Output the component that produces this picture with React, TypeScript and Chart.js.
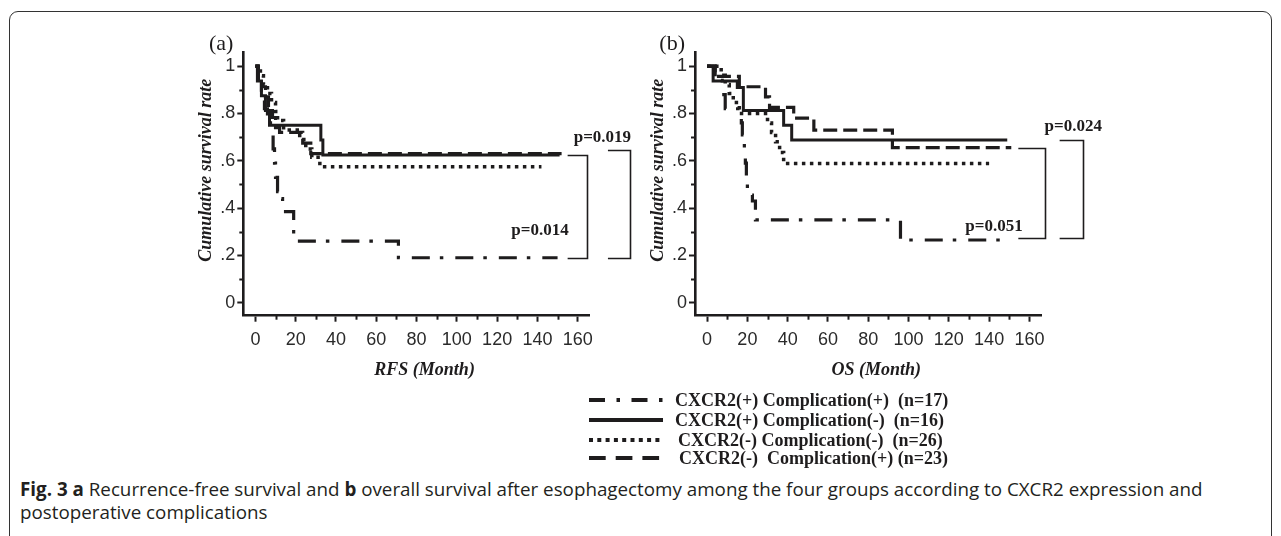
import React, { useEffect, useRef } from "react";
import { Chart, registerables } from "chart.js";

Chart.register(...registerables);

// ---------------- DATA ----------------
const GROUP_LABELS = [
  "CXCR2(+) Complication(+)  (n=17)",
  "CXCR2(+) Complication(-)  (n=16)",
  "CXCR2(-) Complication(-)  (n=26)",
  "CXCR2(-)  Complication(+) (n=23)",
];

// RFS (panel a) – Kaplan-Meier step points: months / survival
const rfsPosPosMonths = [0, 1.5, 3, 4.5, 6, 7.5, 8.8, 9.5, 10, 11, 12.5, 13.5, 19, 71, 150];
const rfsPosPosSurv = [1, 0.94, 0.88, 0.82, 0.76, 0.71, 0.65, 0.59, 0.53, 0.47, 0.44, 0.385, 0.26, 0.19, 0.19];
const rfsPosNegMonths = [0, 1, 3, 5, 7, 32.5, 33.5, 151];
const rfsPosNegSurv = [1, 0.9375, 0.875, 0.8125, 0.75, 0.6875, 0.625, 0.625];
const rfsNegNegMonths = [0, 2.5, 4, 6, 8, 10, 11, 14, 22, 25, 28, 32, 142];
const rfsNegNegSurv = [1, 0.96, 0.923, 0.885, 0.846, 0.808, 0.77, 0.73, 0.69, 0.65, 0.615, 0.575, 0.575];
const rfsNegPosMonths = [0, 1.5, 3, 5, 6.5, 8.5, 10, 12, 23.5, 27.5, 152];
const rfsNegPosSurv = [1, 0.957, 0.913, 0.87, 0.826, 0.783, 0.74, 0.72, 0.675, 0.63, 0.63];

// OS (panel b)
const osPosPosMonths = [0, 4, 7.5, 9, 17, 17.5, 18.5, 19, 19.5, 20, 22.5, 24, 96, 147];
const osPosPosSurv = [1, 0.94, 0.88, 0.82, 0.76, 0.71, 0.65, 0.59, 0.53, 0.455, 0.43, 0.35, 0.265, 0.265];
const osPosNegMonths = [0, 3, 15, 18, 38, 42, 149];
const osPosNegSurv = [1, 0.9375, 0.91, 0.8125, 0.75, 0.6875, 0.6875];
const osNegNegMonths = [0, 7, 9, 11, 13, 16, 30, 32, 34, 36, 38, 140];
const osNegNegSurv = [1, 0.962, 0.923, 0.885, 0.846, 0.8, 0.76, 0.72, 0.68, 0.635, 0.589, 0.589];
const osNegPosMonths = [0, 4, 16, 29, 31, 43, 53, 92, 151];
const osNegPosSurv = [1, 0.957, 0.913, 0.87, 0.826, 0.78, 0.73, 0.656, 0.656];

const X_TICKS = [0, 10, 20, 30, 40, 50, 60, 70, 80, 90, 100, 110, 120, 130, 140, 150, 160];
const Y_TICKS = [0, 0.1, 0.2, 0.3, 0.4, 0.5, 0.6, 0.7, 0.8, 0.9, 1];

const RFS_P_VALUES = ["p=0.014", "p=0.019"];
const OS_P_VALUES = ["p=0.051", "p=0.024"];

// ---------------- STYLE ----------------
const INK = "#1e1c1d";
const DASHES = [[18, 10, 3.5, 12], [], [3.5, 4.5], [14, 6]];
const WIDTHS = [3.2, 3, 3.5, 3.2];
const SERIF = "'Liberation Serif', 'Times New Roman', serif";
const SANS = "'Liberation Sans', Arial, sans-serif";

const isMajorY = (v: number) => Math.round(v * 10) % 2 === 0;
const isMajorX = (v: number) => Math.round(v) % 20 === 0;

const annotPlugin = {
  id: "kmAnnot",
  afterDraw(chart: any, _args: any, o: any) {
    const { ctx, chartArea: ca } = chart;
    const x = chart.scales.x;
    const y = chart.scales.y;
    ctx.save();
    // minor ticks
    ctx.strokeStyle = INK;
    ctx.lineWidth = 2;
    Y_TICKS.filter((v) => !isMajorY(v)).forEach((v) => {
      const py = Math.round(y.getPixelForValue(v)) + 0.5;
      ctx.beginPath();
      ctx.moveTo(ca.left - 4, py);
      ctx.lineTo(ca.left, py);
      ctx.stroke();
    });
    X_TICKS.filter((v) => !isMajorX(v)).forEach((v) => {
      const px = Math.round(x.getPixelForValue(v)) + 0.5;
      ctx.beginPath();
      ctx.moveTo(px, ca.bottom);
      ctx.lineTo(px, ca.bottom + 4);
      ctx.stroke();
    });
    ctx.fillStyle = INK;
    // y title
    ctx.save();
    ctx.font = `italic bold 18px ${SERIF}`;
    ctx.translate(ca.left - 37, y.getPixelForValue(0.56));
    ctx.rotate(-Math.PI / 2);
    ctx.textAlign = "center";
    ctx.textBaseline = "middle";
    ctx.fillText("Cumulative survival rate", 0, 0);
    ctx.restore();
    // x title
    ctx.font = `italic bold 18px ${SERIF}`;
    ctx.textAlign = "center";
    ctx.textBaseline = "middle";
    ctx.fillText(o.xTitle, x.getPixelForValue(o.xTitleAt), ca.bottom + 55);
    // panel tag
    ctx.font = `22px ${SERIF}`;
    ctx.textAlign = "right";
    ctx.fillText(o.tag, ca.left - 10, ca.top - 8);
    // brackets
    ctx.lineWidth = 1.6;
    o.brackets.forEach((b: any) => {
      const x0 = x.getPixelForValue(b.x0);
      const x1 = Math.round(x.getPixelForValue(b.x1)) + 0.5;
      const yt = Math.round(y.getPixelForValue(b.yTop)) + 0.5;
      const yb = Math.round(y.getPixelForValue(b.yBot)) + 0.5;
      ctx.beginPath();
      ctx.moveTo(x0, yt);
      ctx.lineTo(x1, yt);
      ctx.lineTo(x1, yb);
      ctx.lineTo(x0, yb);
      ctx.stroke();
    });
    ctx.font = `bold 17px ${SERIF}`;
    o.labels.forEach((l: any) => {
      ctx.textAlign = l.align;
      ctx.fillText(l.text, x.getPixelForValue(l.x), y.getPixelForValue(l.y));
    });
    ctx.restore();
  },
};

function buildConfig(months: number[][], surv: number[][], annot: any, padRight: number) {
  return {
    type: "line",
    data: {
      datasets: months.map((m, i) => ({
        data: m.map((t, j) => ({ x: t, y: surv[i][j] })),
        stepped: true,
        borderColor: INK,
        borderWidth: WIDTHS[i],
        borderDash: DASHES[i],
        borderCapStyle: "butt",
        borderJoinStyle: "miter",
        pointRadius: 0,
        fill: false,
      })),
    },
    options: {
      animation: false,
      responsive: false,
      maintainAspectRatio: false,
      devicePixelRatio: 1,
      layout: { padding: { top: 52, right: padRight, left: 0, bottom: 0 } },
      plugins: { legend: { display: false }, tooltip: { enabled: false }, kmAnnot: annot },
      scales: {
        x: {
          type: "linear",
          min: -6,
          max: 166,
          afterBuildTicks: (s: any) => {
            s.ticks = X_TICKS.map((v) => ({ value: v }));
          },
          afterFit: (s: any) => {
            s.height = 84.3;
          },
          ticks: {
            autoSkip: false,
            maxRotation: 0,
            padding: 8,
            color: "#2a2a2a",
            font: { family: SANS, size: 18 },
            callback: (v: number) => (isMajorX(v) ? String(v) : ""),
          },
          grid: {
            drawOnChartArea: false,
            tickLength: 6,
            tickWidth: 2,
            tickColor: (c: any) => (c.tick && isMajorX(c.tick.value) ? INK : "rgba(0,0,0,0)"),
          },
          border: { color: INK, width: 2.6 },
        },
        y: {
          type: "linear",
          min: -0.055,
          max: 1.06,
          afterBuildTicks: (s: any) => {
            s.ticks = Y_TICKS.map((v) => ({ value: v }));
          },
          afterFit: (s: any) => {
            s.width = annot.yAxisWidth;
          },
          ticks: {
            autoSkip: false,
            padding: 2,
            color: "#2a2a2a",
            font: { family: SANS, size: 18 },
            callback: (v: number) => {
              if (!isMajorY(v)) return "";
              const k = Math.round(v * 10);
              if (k === 0) return "0";
              if (k === 10) return "1";
              return "." + k;
            },
          },
          grid: {
            drawOnChartArea: false,
            tickLength: 6,
            tickWidth: 2,
            tickColor: (c: any) => (c.tick && isMajorY(c.tick.value) ? INK : "rgba(0,0,0,0)"),
          },
          border: { color: INK, width: 2.6 },
        },
      },
    },
    plugins: [annotPlugin],
  };
}

const RFS_ANNOT = {
  tag: "(a)",
  xTitle: "RFS (Month)",
  xTitleAt: 84,
  yAxisWidth: 93.3,
  brackets: [
    { x0: 155, x1: 164.8, yTop: 0.625, yBot: 0.19 },
    { x0: 175, x1: 186, yTop: 0.645, yBot: 0.19 },
  ],
  labels: [
    { text: RFS_P_VALUES[0], x: 155.5, y: 0.305, align: "right" },
    { text: RFS_P_VALUES[1], x: 158, y: 0.7, align: "left" },
  ],
};

const OS_ANNOT = {
  tag: "(b)",
  xTitle: "OS (Month)",
  xTitleAt: 84,
  yAxisWidth: 95,
  brackets: [
    { x0: 154.5, x1: 167.5, yTop: 0.656, yBot: 0.272 },
    { x0: 175, x1: 186.5, yTop: 0.688, yBot: 0.272 },
  ],
  labels: [
    { text: OS_P_VALUES[0], x: 156.7, y: 0.32, align: "right" },
    { text: OS_P_VALUES[1], x: 167.5, y: 0.745, align: "left" },
  ],
};

function KMPanel(props: { months: number[][]; surv: number[][]; annot: any; left: number; width: number; padRight: number }) {
  const ref = useRef<HTMLCanvasElement | null>(null);
  useEffect(() => {
    if (!ref.current) return;
    const chart = new Chart(ref.current, buildConfig(props.months, props.surv, props.annot, props.padRight) as any);
    return () => chart.destroy();
  }, []);
  return (
    <canvas
      ref={ref}
      width={props.width}
      height={400}
      style={{ position: "absolute", left: props.left, top: 0, width: props.width, height: 400 }}
    />
  );
}

const LEGEND_ROWS_Y = [400, 420, 440, 458];
const LEGEND_TEXT_X = [675, 675, 678, 679];
const LEGEND_DASHES = ["16 11.5 3.5 11.5", "", "4 4.3", "16.7 10"];

export default function App() {
  return (
    <div style={{ position: "fixed", left: 0, top: 0, width: 1281, height: 536, overflow: "hidden", background: "#fff" }}>
      <div
        style={{
          position: "absolute",
          left: 9,
          top: 11,
          width: 1263,
          height: 600,
          border: "1.6px solid #333",
          borderRadius: 9,
          boxSizing: "border-box",
        }}
      />
      <KMPanel
        months={[rfsPosPosMonths, rfsPosNegMonths, rfsNegNegMonths, rfsNegPosMonths]}
        surv={[rfsPosPosSurv, rfsPosNegSurv, rfsNegNegSurv, rfsNegPosSurv]}
        annot={RFS_ANNOT}
        left={150}
        width={500}
        padRight={60.2}
      />
      <KMPanel
        months={[osPosPosMonths, osPosNegMonths, osNegNegMonths, osNegPosMonths]}
        surv={[osPosPosSurv, osPosNegSurv, osNegNegSurv, osNegPosSurv]}
        annot={OS_ANNOT}
        left={600}
        width={530}
        padRight={88.5}
      />
      <svg style={{ position: "absolute", left: 580, top: 385, width: 100, height: 85 }} width={100} height={85}>
        {LEGEND_ROWS_Y.map((ry, i) => (
          <line
            key={i}
            x1={9}
            x2={83}
            y1={ry - 385}
            y2={ry - 385}
            stroke={INK}
            strokeWidth={4}
            strokeDasharray={LEGEND_DASHES[i] || undefined}
          />
        ))}
      </svg>
      {GROUP_LABELS.map((t, i) => (
        <div
          key={i}
          style={{
            position: "absolute",
            left: LEGEND_TEXT_X[i],
            top: LEGEND_ROWS_Y[i] - 11,
            height: 22,
            lineHeight: "22px",
            fontFamily: SERIF,
            fontWeight: "bold",
            fontSize: 18,
            color: INK,
            whiteSpace: "pre",
          }}
        >
          {t}
        </div>
      ))}
      <div
        style={{
          position: "absolute",
          left: 20,
          top: 478,
          fontFamily: "'Open Sans', 'Noto Sans', sans-serif",
          fontSize: 18.8,
          lineHeight: "23px",
          color: "#231f20",
          whiteSpace: "pre",
        }}
      >
        <b>Fig. 3 a</b> Recurrence-free survival and <b>b</b> overall survival after esophagectomy among the four groups according to CXCR2 expression and
        {"\n"}postoperative complications
      </div>
    </div>
  );
}
